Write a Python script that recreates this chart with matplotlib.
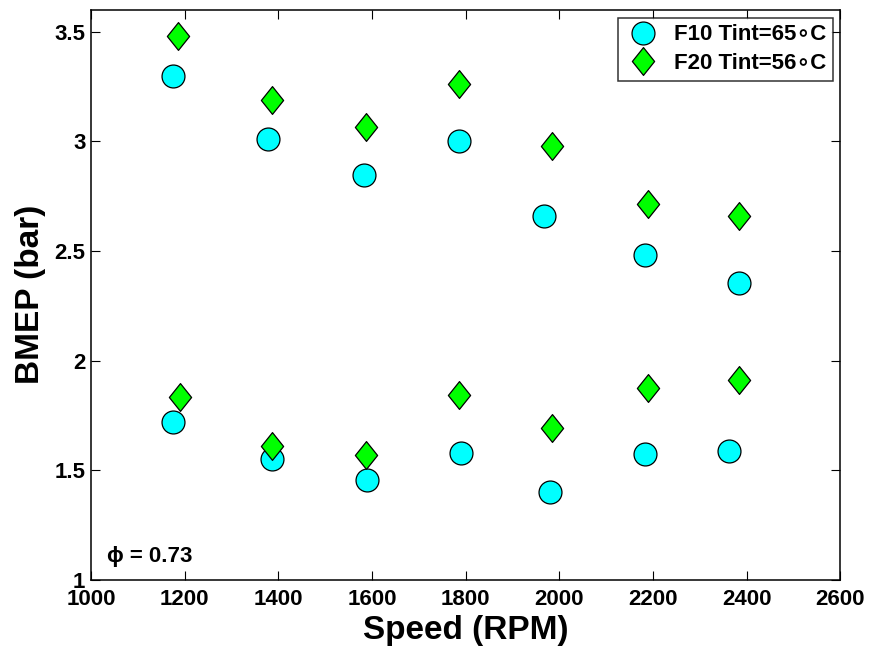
import matplotlib
matplotlib.use("Agg")
import matplotlib.pyplot as plt
from matplotlib.path import Path

plt.rcParams['font.family'] = ['Liberation Sans', 'DejaVu Sans']
plt.rcParams['font.weight'] = 'bold'

# Engine speed (RPM) and BMEP (bar) for the two fuels
speed_f10 = [1175, 1379, 1582, 1785, 1967, 2183, 2384,
             1175, 1387, 1590, 1789, 1980, 2183, 2363]
bmep_f10 = [3.30, 3.01, 2.845, 3.00, 2.66, 2.48, 2.355,
            1.72, 1.55, 1.455, 1.578, 1.40, 1.572, 1.585]

speed_f20 = [1186, 1387, 1588, 1785, 1984, 2189, 2384,
             1190, 1387, 1588, 1785, 1984, 2189, 2384]
bmep_f20 = [3.48, 3.187, 3.067, 3.263, 2.98, 2.715, 2.66,
            1.833, 1.612, 1.568, 1.845, 1.69, 1.873, 1.91]

labels = ['F10 Tint=65\u2218C', 'F20 Tint=56\u2218C']
xticks = [1000, 1200, 1400, 1600, 1800, 2000, 2200, 2400, 2600]
yticks = [1, 1.5, 2, 2.5, 3, 3.5]
ytick_labels = ['1', '1.5', '2', '2.5', '3', '3.5']

# tall diamond marker (width 0.8 of height)
diamond = Path([(0, 1), (0.8, 0), (0, -1), (-0.8, 0), (0, 1)],
               [Path.MOVETO, Path.LINETO, Path.LINETO, Path.LINETO, Path.CLOSEPOLY])

fig = plt.figure(figsize=(8.73, 6.5), dpi=100)
ax = fig.add_axes([0.1042, 0.1082, 0.8584, 0.8764])

ax.plot(speed_f10, bmep_f10, linestyle='none', marker='o', markersize=16.5,
        markerfacecolor='#00ffff', markeredgecolor='black', markeredgewidth=0.9,
        label=labels[0])
ax.plot(speed_f20, bmep_f20, linestyle='none', marker=diamond, markersize=20,
        markerfacecolor='#00ff00', markeredgecolor='black', markeredgewidth=0.9,
        label=labels[1])

ax.set_xlim(1000, 2600)
ax.set_ylim(1, 3.6)
ax.set_xticks(xticks)
ax.set_yticks(yticks)
ax.set_yticklabels(ytick_labels)
ax.tick_params(direction='in', top=True, right=True, length=6.5, width=0.8,
               labelsize=16)
ax.tick_params(axis='x', pad=7)
ax.tick_params(axis='y', pad=4)
for lab in ax.get_xticklabels() + ax.get_yticklabels():
    lab.set_fontweight('bold')
for sp in ax.spines.values():
    sp.set_linewidth(1.1)

ax.set_xlabel('Speed (RPM)', fontsize=24, fontweight='bold', labelpad=3)
ax.set_ylabel('BMEP (bar)', fontsize=24, fontweight='bold', labelpad=6)

ax.text(1035, 1.105, '\u03d5 = 0.73', fontsize=16, fontweight='bold',
        va='center', family=['Liberation Sans', 'DejaVu Sans'])

leg = ax.legend(loc='upper right', fontsize=16, frameon=True, fancybox=False,
                borderaxespad=0.35, handletextpad=0.6, borderpad=0.3,
                labelspacing=0.35, handlelength=1.6)
leg.get_frame().set_edgecolor('black')
leg.get_frame().set_linewidth(1.1)
for t in leg.get_texts():
    t.set_fontweight('bold')

fig.savefig('out.png', dpi=100)
